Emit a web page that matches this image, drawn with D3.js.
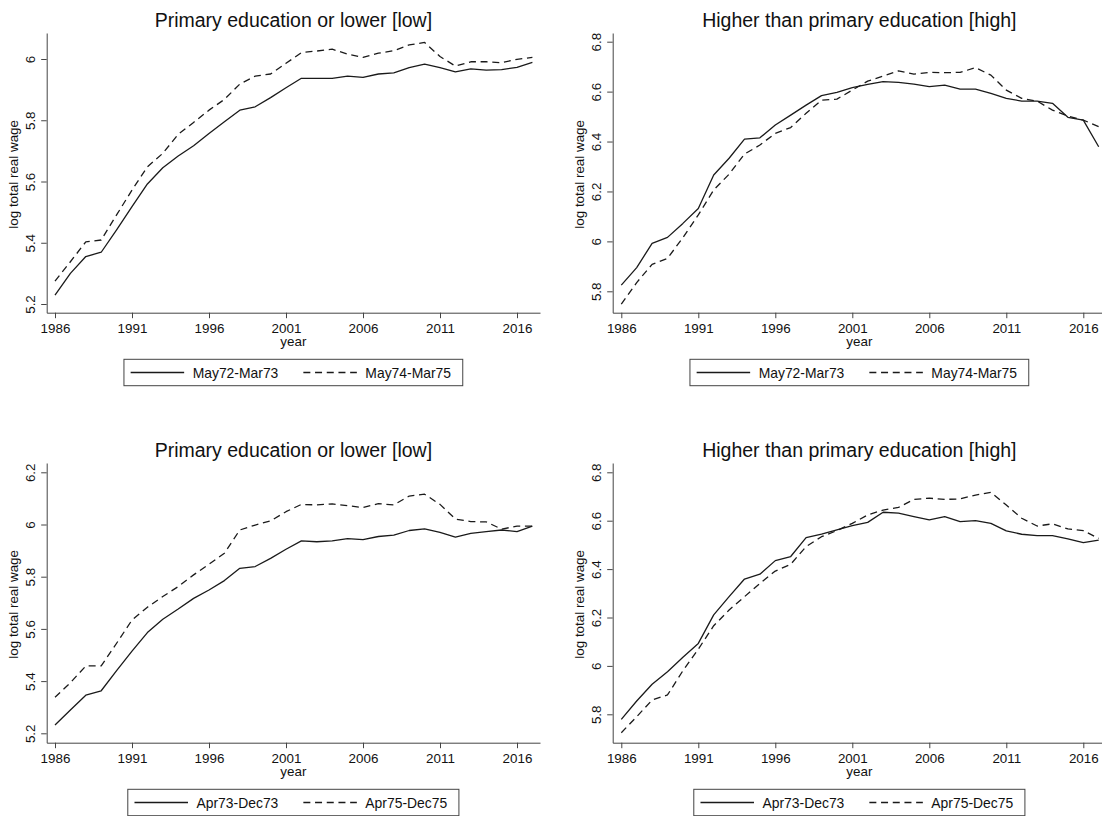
<!DOCTYPE html>
<html><head><meta charset="utf-8">
<script src="https://cdn.jsdelivr.net/npm/d3@7"></script>
<style>
body{margin:0;background:#fff}
svg{display:block}
text{font-family:"Liberation Sans",Arial,Helvetica,sans-serif;fill:#111}
</style>
</head><body>
<svg id="c" width="1102" height="816"></svg>
<script>
// ---- data ----
const years = [1986,1987,1988,1989,1990,1991,1992,1993,1994,1995,1996,1997,1998,1999,2000,2001,
               2002,2003,2004,2005,2006,2007,2008,2009,2010,2011,2012,2013,2014,2015,2016,2017];
const xTickLabels = [1986,1991,1996,2001,2006,2011,2016];

const lowMay72 = [5.229,5.300,5.355,5.369,5.442,5.518,5.592,5.645,5.683,5.717,5.757,5.795,5.833,5.844,5.874,5.906,
                  5.937,5.937,5.937,5.944,5.940,5.951,5.955,5.972,5.983,5.972,5.958,5.968,5.964,5.965,5.973,5.989];
const lowMay74 = [5.275,5.338,5.403,5.409,5.491,5.572,5.648,5.692,5.754,5.793,5.833,5.868,5.918,5.944,5.951,5.986,
                  6.021,6.026,6.032,6.016,6.005,6.019,6.027,6.046,6.054,6.008,5.977,5.991,5.991,5.988,5.999,6.005];
const highMay72 = [5.825,5.895,5.992,6.016,6.072,6.132,6.266,6.333,6.410,6.415,6.466,6.506,6.546,6.584,6.597,6.616,
                   6.629,6.640,6.637,6.630,6.620,6.626,6.610,6.610,6.593,6.573,6.562,6.562,6.553,6.497,6.486,6.379];
const highMay74 = [5.749,5.835,5.908,5.932,6.015,6.106,6.206,6.269,6.350,6.386,6.433,6.456,6.513,6.566,6.570,6.606,
                   6.642,6.662,6.683,6.670,6.677,6.676,6.677,6.696,6.666,6.606,6.573,6.562,6.526,6.502,6.486,6.460];
const lowApr73 = [5.232,5.289,5.346,5.363,5.440,5.515,5.586,5.637,5.676,5.717,5.749,5.785,5.832,5.839,5.870,5.905,
                  5.937,5.934,5.937,5.946,5.942,5.954,5.959,5.977,5.983,5.970,5.952,5.966,5.973,5.979,5.973,5.994];
const lowApr75 = [5.338,5.394,5.458,5.458,5.545,5.634,5.683,5.724,5.762,5.807,5.848,5.890,5.979,5.998,6.014,6.049,
                  6.077,6.075,6.079,6.072,6.065,6.080,6.075,6.109,6.116,6.077,6.021,6.011,6.010,5.982,5.994,5.994];
const highApr73 = [5.779,5.855,5.924,5.976,6.036,6.093,6.211,6.286,6.359,6.379,6.435,6.452,6.530,6.545,6.562,6.580,
                   6.593,6.635,6.631,6.617,6.603,6.617,6.596,6.600,6.589,6.558,6.544,6.538,6.538,6.525,6.509,6.520];
const highApr75 = [5.724,5.790,5.859,5.880,5.980,6.069,6.166,6.231,6.286,6.341,6.392,6.420,6.493,6.534,6.559,6.589,
                   6.624,6.644,6.655,6.688,6.693,6.688,6.690,6.706,6.717,6.665,6.610,6.578,6.587,6.566,6.559,6.527];

const titles = ["Primary education or lower [low]","Higher than primary education [high]"];
const legendTop = ["May72-Mar73","May74-Mar75"];
const legendBottom = ["Apr73-Dec73","Apr75-Dec75"];
const yTicksLow = [5.2,5.4,5.6,5.8,6];
const yTicksLow2 = [5.2,5.4,5.6,5.8,6,6.2];
const yTicksHigh = [5.8,6,6.2,6.4,6.6,6.8];
const xTitle = "year";
const yTitle = "log total real wage";

// ---- layout ----
const panels = [
  {title:titles[0], a:lowMay72, b:lowMay74, yTicks:yTicksLow, legend:legendTop,
   left:46.7, right:540, top:33, bottom:312.7, x0:55, x1:532.4, yLoPx:304, yHiPx:59},
  {title:titles[1], a:highMay72, b:highMay74, yTicks:yTicksHigh, legend:legendTop,
   left:612.7, right:1106, top:33, bottom:312.7, x0:621.3, x1:1098.7, yLoPx:291.3, yHiPx:41.7},
  {title:titles[0], a:lowApr73, b:lowApr75, yTicks:yTicksLow2, legend:legendBottom,
   left:46.7, right:540, top:463, bottom:742.7, x0:55, x1:532.4, yLoPx:733.3, yHiPx:472.3},
  {title:titles[1], a:highApr73, b:highApr75, yTicks:yTicksHigh, legend:legendBottom,
   left:612.7, right:1106, top:463, bottom:742.7, x0:621.3, x1:1098.7, yLoPx:714.3, yHiPx:472.3}
];

const svg = d3.select("#c");
const ink = "#1a1a1a", axisCol = "#444";
const dash = "7,4.7";
const fmt = v => d3.format(".1f")(v).replace(/\.0$/, "");

panels.forEach(p => {
  const g = svg.append("g");
  const xs0 = d3.scaleLinear().domain([years[0], years[years.length-1]]).range([p.x0, p.x1]);
  const x = d3.scaleLinear().domain([xs0.invert(p.left), xs0.invert(p.right)]).range([p.left, p.right]);
  const ys0 = d3.scaleLinear().domain([p.yTicks[0], p.yTicks[p.yTicks.length-1]]).range([p.yLoPx, p.yHiPx]);
  const y = d3.scaleLinear().domain([ys0.invert(p.bottom), ys0.invert(p.top)]).range([p.bottom, p.top]);
  const cx = (p.left + p.right) / 2;

  // x axis
  const gx = g.append("g").attr("transform", `translate(0,${p.bottom})`)
    .call(d3.axisBottom(x).tickValues(xTickLabels).tickSize(5.5).tickSizeOuter(0).tickFormat(d3.format("d")));
  gx.selectAll("path,line").attr("stroke", axisCol);
  gx.selectAll("text").attr("y", 20.6).attr("dy", 0).style("font-size", "13.4px")
    .style("font-family", '"Liberation Sans",Arial,sans-serif').attr("fill", "#111");

  // y axis
  const gy = g.append("g").attr("transform", `translate(${p.left},0)`)
    .call(d3.axisLeft(y).tickValues(p.yTicks).tickSize(5.5).tickSizeOuter(0).tickFormat(""));
  gy.selectAll("path,line").attr("stroke", axisCol);
  gy.selectAll(".tick").append("text")
    .attr("transform", "translate(-11.7,0) rotate(-90)")
    .attr("text-anchor", "middle")
    .style("font-size", "13.4px")
    .attr("fill", "#111")
    .text(d => fmt(d));

  // axis titles
  g.append("text").attr("x", cx).attr("y", p.bottom + 33.6).attr("text-anchor", "middle")
    .style("font-size", "13.4px").text(xTitle);
  g.append("text").attr("transform", `translate(${p.left - 28.6},${(p.top + p.bottom) / 2 + 1.5}) rotate(-90)`)
    .attr("text-anchor", "middle").style("font-size", "13.4px").text(yTitle);

  // title
  g.append("text").attr("x", cx).attr("y", p.top - 6.5).attr("text-anchor", "middle")
    .style("font-size", "19.5px").text(p.title);

  // series
  const line = d3.line().x((d, i) => x(years[i])).y(d => y(d));
  g.append("path").datum(p.a).attr("d", line).attr("fill", "none")
    .attr("stroke", ink).attr("stroke-width", 1.3).attr("stroke-linejoin", "round");
  g.append("path").datum(p.b).attr("d", line).attr("fill", "none")
    .attr("stroke", ink).attr("stroke-width", 1.3).attr("stroke-dasharray", dash).attr("stroke-linejoin", "round");

  // legend
  const lg = g.append("g");
  const boxTop = p.bottom + 46.6, boxH = 26.4, midY = boxTop + boxH / 2;
  const padL = 6.7, padR = 11.7, sampleW = 53.5, gapT = 8.5, gapItem = 25;
  const t1 = lg.append("text").attr("y", midY + 5).style("font-size", "13.9px").text(p.legend[0]);
  const t2 = lg.append("text").attr("y", midY + 5).style("font-size", "13.9px").text(p.legend[1]);
  const w1 = t1.node().getComputedTextLength(), w2 = t2.node().getComputedTextLength();
  const total = padL + sampleW + gapT + w1 + gapItem + sampleW + gapT + w2 + padR;
  const bx = cx - total / 2;
  lg.insert("rect", "text").attr("x", bx).attr("y", boxTop).attr("width", total).attr("height", boxH)
    .attr("fill", "#fff").attr("stroke", axisCol).attr("stroke-width", 1);
  let xx = bx + padL;
  lg.append("line").attr("x1", xx).attr("x2", xx + sampleW).attr("y1", midY).attr("y2", midY)
    .attr("stroke", ink).attr("stroke-width", 1.3);
  xx += sampleW + gapT;
  t1.attr("x", xx);
  xx += w1 + gapItem;
  lg.append("line").attr("x1", xx).attr("x2", xx + sampleW).attr("y1", midY).attr("y2", midY)
    .attr("stroke", ink).attr("stroke-width", 1.3).attr("stroke-dasharray", dash);
  xx += sampleW + gapT;
  t2.attr("x", xx);
});
</script>
</body></html>
